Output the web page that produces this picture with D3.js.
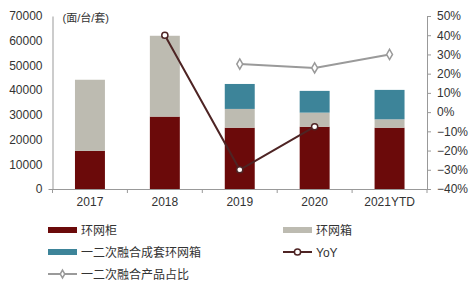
<!DOCTYPE html>
<html>
<head>
<meta charset="utf-8">
<script src="https://cdn.jsdelivr.net/npm/d3@7/dist/d3.min.js"></script>
<style>
body { margin: 0; background: #fff; }
text { font-family: "Liberation Sans", Arial, "Noto Sans CJK SC", sans-serif; }
</style>
</head>
<body>
<svg id="chart" width="471" height="286"></svg>
<script>
var years = ["2017", "2018", "2019", "2020", "2021YTD"];
var ringCabinet = [15400, 29300, 24800, 25200, 24800];   // 环网柜
var ringBox = [28800, 32700, 7600, 5700, 3400];          // 环网箱
var fusedBox = [0, 0, 10100, 8800, 11900];               // 一二次融合成套环网箱
var yoy = [null, 0.40, -0.30, -0.076, null];             // YoY
var fusedShare = [null, null, 0.25, 0.23, 0.30];         // 一二次融合产品占比
var leftTicks = [0, 10000, 20000, 30000, 40000, 50000, 60000, 70000];
var rightTicks = [-0.4, -0.3, -0.2, -0.1, 0, 0.1, 0.2, 0.3, 0.4, 0.5];

var colors = {cab: "#6b0a0a", box: "#bdbbb1", fused: "#3d8499", yoy: "#4e2424", share: "#9a9a9a"};

var margin = {top: 16, left: 52.5, right: 44, bottom: 97},
	width = 471 - margin.left - margin.right,
	height = 286 - margin.top - margin.bottom;

var svg = d3.select("#chart");
var g = svg.append("g").attr("transform", "translate(" + margin.left + "," + margin.top + ")");

var x = d3.scaleBand().domain(years).range([0, width]).paddingInner(0.6).paddingOuter(0.3);
var y = d3.scaleLinear().domain([0, 70000]).range([height, 0]);
var y2 = d3.scaleLinear().domain([-0.4, 0.5]).range([height, 0]);

// stacked bars
var rows = years.map(function(d, i) { return {year: d, cab: ringCabinet[i], box: ringBox[i], fused: fusedBox[i]}; });
var stack = d3.stack().keys(["cab", "box", "fused"])(rows);
g.selectAll(".layer")
	.data(stack)
	.enter().append("g")
	.attr("fill", function(d) { return colors[d.key]; })
	.selectAll("rect")
	.data(function(d) { return d; })
	.enter().append("rect")
	.attr("x", function(d) { return x(d.data.year); })
	.attr("width", x.bandwidth())
	.attr("y", function(d) { return y(d[1]); })
	.attr("height", function(d) { return y(d[0]) - y(d[1]); });

// axes
var gx = g.append("g")
	.attr("transform", "translate(0," + height + ")")
	.call(d3.axisBottom(x).tickSize(0).tickPadding(8));
gx.selectAll(".bnd")
	.data(d3.range(0, years.length + 1))
	.enter().append("line")
	.attr("x1", function(i) { return i * width / years.length; })
	.attr("x2", function(i) { return i * width / years.length; })
	.attr("y1", 0).attr("y2", 4)
	.attr("stroke", "#999");

var gy = g.append("g")
	.call(d3.axisLeft(y).tickValues(leftTicks).tickSize(0).tickPadding(10).tickFormat(d3.format("d")));
gy.selectAll(".tick").filter(function(d) { return d === 0; }).select("line").attr("x2", -4);

var gy2 = g.append("g")
	.attr("transform", "translate(" + width + ",0)")
	.call(d3.axisRight(y2).tickValues(rightTicks).tickSize(4).tickPadding(6).tickFormat(d3.format(".0%")));

[gx, gy, gy2].forEach(function(a) {
	a.select(".domain").attr("stroke", "#999");
	a.selectAll(".tick line").attr("stroke", "#999");
	a.selectAll("text").attr("fill", "#333").style("font-size", "12px");
});

g.append("text")
	.attr("x", 10).attr("y", 6)
	.attr("fill", "#333").style("font-size", "11px")
	.text("(面/台/套)");

// lines
function drawLine(vals, color, w, r, marker) {
	var pts = years.map(function(d, i) { return {year: d, v: vals[i]}; }).filter(function(d) { return d.v !== null; });
	var line = d3.line()
		.x(function(d) { return x(d.year) + x.bandwidth() / 2; })
		.y(function(d) { return y2(d.v); });
	g.append("path").datum(pts)
		.attr("fill", "none").attr("stroke", color).attr("stroke-width", w).attr("d", line);
	g.selectAll(".pt-" + marker)
		.data(pts)
		.enter().append("path")
		.attr("transform", function(d) { return "translate(" + (x(d.year) + x.bandwidth() / 2) + "," + y2(d.v) + ")"; })
		.attr("d", marker === "diamond" ? d3.symbol().type(d3.symbolDiamond).size(r)() : d3.symbol().type(d3.symbolCircle).size(r)())
		.attr("fill", "#fff").attr("stroke", color).attr("stroke-width", 1.5);
}
drawLine(fusedShare, colors.share, 2, 30, "diamond");
drawLine(yoy, colors.yoy, 2, 30, "circle");

// legend
var legend = [
	{name: "环网柜", type: "rect", color: colors.cab, x: 48, y: 230},
	{name: "环网箱", type: "rect", color: colors.box, x: 283, y: 230},
	{name: "一二次融合成套环网箱", type: "rect", color: colors.fused, x: 48, y: 252},
	{name: "YoY", type: "circle", color: colors.yoy, x: 283, y: 252},
	{name: "一二次融合产品占比", type: "diamond", color: colors.share, x: 48, y: 274}
];
var lg = svg.selectAll(".lg").data(legend).enter().append("g")
	.attr("transform", function(d) { return "translate(" + d.x + "," + d.y + ")"; });
lg.filter(function(d) { return d.type === "rect"; }).append("rect")
	.attr("x", 0).attr("y", -3).attr("width", 29).attr("height", 6)
	.attr("fill", function(d) { return d.color; });
lg.filter(function(d) { return d.type !== "rect"; }).append("line")
	.attr("x1", 0).attr("x2", 29).attr("y1", 0).attr("y2", 0)
	.attr("stroke", function(d) { return d.color; }).attr("stroke-width", 2);
lg.filter(function(d) { return d.type !== "rect"; }).append("path")
	.attr("transform", "translate(14.5,0)")
	.attr("d", function(d) { return d3.symbol().type(d.type === "circle" ? d3.symbolCircle : d3.symbolDiamond).size(d.type === "circle" ? 30 : 18)(); })
	.attr("fill", "#fff")
	.attr("stroke", function(d) { return d.color; }).attr("stroke-width", 1.5);
lg.append("text")
	.attr("x", 33).attr("y", 4.5)
	.attr("fill", "#333").style("font-size", "12px")
	.text(function(d) { return d.name; });
</script>
</body>
</html>
